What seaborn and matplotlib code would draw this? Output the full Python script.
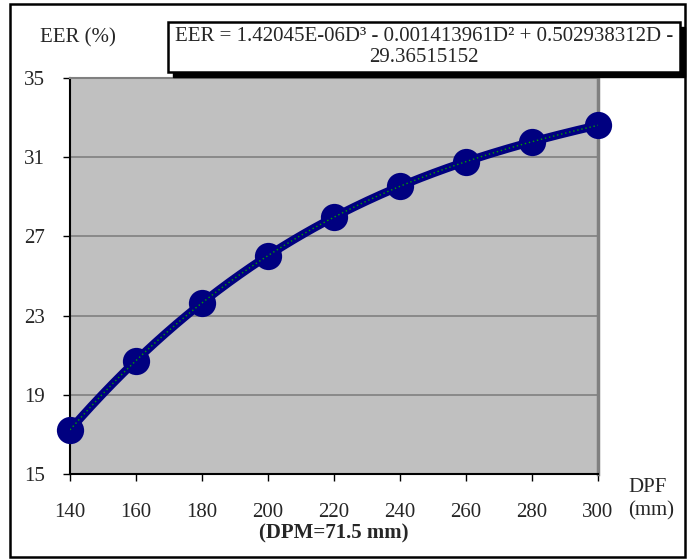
import numpy as np
import pandas as pd
import matplotlib
matplotlib.use("Agg")
import matplotlib.pyplot as plt
from matplotlib.patches import Rectangle
import seaborn as sns

# Data
dpf = [140, 160, 180, 200, 220, 240, 260, 280, 300]
eer = [17.23, 20.73, 23.64, 26.03, 27.97, 29.53, 30.78, 31.78, 32.61]
x_ticks = [140, 160, 180, 200, 220, 240, 260, 280, 300]
y_ticks = [15, 19, 23, 27, 31, 35]
equation = "EER = 1.42045E-06D\u00b3 - 0.001413961D\u00b2 + 0.502938312D -\n29.36515152"

sns.set_theme(style="white")
plt.rcParams['font.family'] = ['Liberation Serif', 'DejaVu Serif']
FS = 15

df = pd.DataFrame({"DPF": dpf, "EER": eer})
coef = np.polyfit(df["DPF"], df["EER"], 3)
xs = np.linspace(min(dpf), max(dpf), 200)
curve = pd.DataFrame({"DPF": xs, "EER": np.polyval(coef, xs)})

fig = plt.figure(figsize=(6.93, 5.6), dpi=100)
ax = fig.add_axes([70/693, 1-474/560, (598-70)/693, (474-78)/560])
ax.set_facecolor("#C0C0C0")

for yv in y_ticks[1:]:
    ax.axhline(yv, color="#808080", lw=1.2, zorder=1)

sns.lineplot(data=curve, x="DPF", y="EER", ax=ax, color="#000080", lw=6, zorder=3,
             solid_capstyle="round")
sns.lineplot(data=curve, x="DPF", y="EER", ax=ax, color="#00A000", lw=1.0,
             linestyle=(0, (1, 2)), zorder=5)
sns.scatterplot(data=df, x="DPF", y="EER", ax=ax, color="#000080", s=330,
                edgecolor="#000080", zorder=4, clip_on=False)

ax.set_xlim(140, 300)
ax.set_ylim(15, 35)
ax.set_xticks(x_ticks)
ax.set_yticks(y_ticks)
ax.set_xticklabels([str(v) for v in x_ticks], fontsize=FS)
ax.set_yticklabels([str(v) for v in y_ticks], fontsize=FS)
ax.tick_params(axis="x", direction="out", length=5, width=1, color="black", pad=16, bottom=True)
ax.tick_params(axis="y", direction="out", length=5, width=1, color="black", pad=13, left=True)
ax.set_xlabel("")
ax.set_ylabel("")

for s in ["left", "bottom"]:
    ax.spines[s].set_color("black")
    ax.spines[s].set_linewidth(1.5)
ax.spines["top"].set_color("#808080")
ax.spines["top"].set_linewidth(1.5)
ax.spines["right"].set_color("#808080")
ax.spines["right"].set_linewidth(2.5)

# Texts
fig.text(40/693, 1-38/560, "EER (%)", fontsize=FS, ha="left", va="center")
fig.text(648/693, 1-488/560, "DPF", fontsize=FS, ha="center", va="center")
fig.text(651/693, 1-511/560, "(mm)", fontsize=FS, ha="center", va="center")
fig.text(334/693, 1-533/560, "(DPM=71.5 mm)", fontsize=FS, fontweight="bold",
         ha="center", va="center")

# Equation box with shadow
bx0, by0, bx1, by1 = 168, 22, 680, 72
fig.patches.append(Rectangle(((bx0+5)/693, 1-(by1+5)/560), (bx1-bx0)/693, (by1-by0)/560,
                             transform=fig.transFigure, facecolor="black", edgecolor="black", zorder=10))
fig.patches.append(Rectangle((bx0/693, 1-by1/560), (bx1-bx0)/693, (by1-by0)/560,
                             transform=fig.transFigure, facecolor="white", edgecolor="black",
                             lw=1.8, zorder=11))
fig.text((bx0+bx1)/2/693, 1-(by0+by1)/2/560, equation, fontsize=FS, ha="center",
         va="center", linespacing=1.2, zorder=12)

# Figure border
fig.patches.append(Rectangle((10/693, 1-557/560), (685-10)/693, (557-4)/560,
                             transform=fig.transFigure, facecolor="none", edgecolor="black",
                             lw=1.8, zorder=20))

fig.savefig("out.png", dpi=100)
